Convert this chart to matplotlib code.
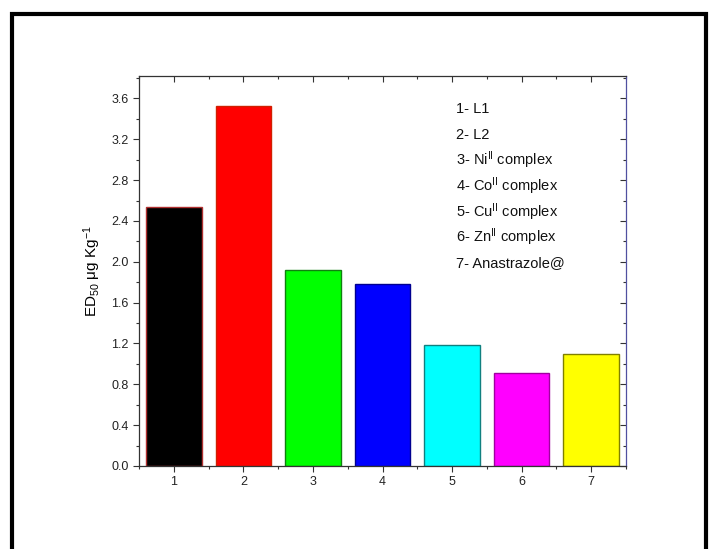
import matplotlib
matplotlib.use("Agg")
import matplotlib.pyplot as plt
from matplotlib.patches import Rectangle
from matplotlib.ticker import MultipleLocator

plt.rcParams['font.family'] = ['Liberation Sans', 'DejaVu Sans']
plt.rcParams['mathtext.fontset'] = 'custom'
plt.rcParams['mathtext.rm'] = 'Liberation Sans'
plt.rcParams['mathtext.it'] = 'Liberation Sans:italic'

categories = [1, 2, 3, 4, 5, 6, 7]
values = [2.54, 3.53, 1.92, 1.78, 1.19, 0.91, 1.10]
colors = ['#000000', '#ff0000', '#00ff00', '#0000ff', '#00ffff', '#ff00ff', '#ffff00']
edges = ['#b03030', '#d02000', '#108010', '#000090', '#108080', '#a000a0', '#808000']
legend_lines = ['1- L1', '2- L2', r'3- Ni$^{\mathrm{II}}$ complex', r'4- Co$^{\mathrm{II}}$ complex',
                r'5- Cu$^{\mathrm{II}}$ complex', r'6- Zn$^{\mathrm{II}}$ complex', '7- Anastrazole@']

fig = plt.figure(figsize=(7.17, 5.49), dpi=100)
fig.patches.append(Rectangle((11.5/717, -0.05), (706-11.5)/717, 1 - 13.5/549 + 0.05,
                             transform=fig.transFigure, fill=False, edgecolor='black', linewidth=3))

ax = fig.add_axes([139/717, 1-466/549, (626-139)/717, (466-76)/549])
ax.bar(categories, values, width=0.8, color=colors, edgecolor=edges, linewidth=1.0)
ax.set_xlim(0.5, 7.5)
ax.set_ylim(0, 3.82)
ax.yaxis.set_major_locator(MultipleLocator(0.4))
ax.yaxis.set_minor_locator(MultipleLocator(0.2))
ax.xaxis.set_major_locator(MultipleLocator(1))
ax.xaxis.set_minor_locator(MultipleLocator(0.5))
ax.set_yticklabels([f'{v:.1f}' for v in ax.get_yticks()])
ax.tick_params(axis='both', which='major', labelsize=9, length=4, width=0.8, color='#333333', labelcolor='#222222')
ax.tick_params(axis='both', which='minor', length=2.5, width=0.8, color='#333333')
ax.tick_params(axis='x', which='both', top=True, direction='out')
ax.tick_params(axis='y', which='both', right=True, direction='out')
for t in ax.xaxis.get_major_ticks() + ax.xaxis.get_minor_ticks():
    t.tick2line.set_marker(3)
for t in ax.yaxis.get_major_ticks() + ax.yaxis.get_minor_ticks():
    t.tick2line.set_marker(0)
ax.spines['right'].set_color('#5050a0')
for s in ['left', 'bottom', 'top']:
    ax.spines[s].set_color('#333333')
for s in ax.spines.values():
    s.set_linewidth(0.9)

ax.set_ylabel(r'ED$_{50}$ $\mathrm{\mu}$g Kg$^{\mathrm{-1}}$', fontsize=11, labelpad=6)

for i, txt in enumerate(legend_lines):
    fig.text(456/717, 1 - (109 + i*25.7)/549, txt, fontsize=10.5, va='center', ha='left', color='#111111')

fig.savefig('out.png', dpi=100)
